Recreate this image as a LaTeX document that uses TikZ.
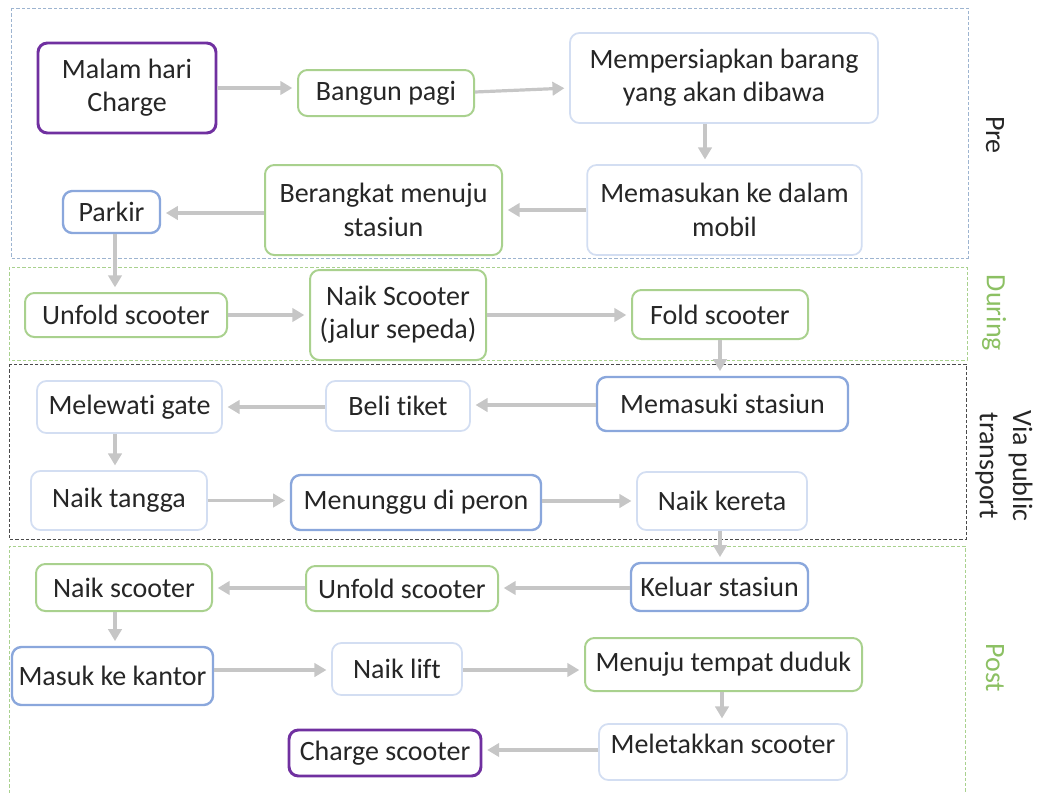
\documentclass[tikz,border=0pt]{standalone}
\usepackage{fontspec}
\setmainfont{Carlito}[Ligatures=NoCommon]
\usetikzlibrary{arrows.meta}

\definecolor{txt}{HTML}{262626}
\definecolor{purp}{HTML}{7030A0}
\definecolor{grn}{HTML}{A9D18E}
\definecolor{grnlabel}{HTML}{8CC063}
\definecolor{blu}{HTML}{8AA7DC}
\definecolor{lblu}{HTML}{D3DEF2}
\definecolor{arrowgray}{HTML}{C6C6C6}
\definecolor{preframe}{HTML}{9DB4D0}
\definecolor{viaframe}{HTML}{4A4A4A}

\begin{document}
\begin{tikzpicture}[x=0.75pt,y=-0.75pt,
  stage/.style={draw, rounded corners=7pt, align=center, fill=white,
    font=\fontsize{21}{25}\selectfont, text=txt, inner xsep=2pt, inner ysep=0pt},
  purplebox/.style={stage, draw=purp, line width=2.2pt},
  greenbox/.style={stage, draw=grn, line width=1.5pt},
  bluebox/.style={stage, draw=blu, line width=1.8pt},
  lightbox/.style={stage, draw=lblu, line width=1.3pt},
  flow/.style={draw=arrowgray, line width=2.4pt,
    -{Triangle[length=9pt,width=10pt]}, shorten >=3.5pt},
  frame/.style={dash pattern=on 2.5pt off 1.5pt, line width=0.7pt},
  phase/.style={rotate=-90, align=center, font=\fontsize{21}{25}\selectfont}]

\useasboundingbox (0,0) rectangle (1040,793);

% phase frames
\draw[frame, draw=preframe] (11,8) rectangle (968,258);
\draw[frame, draw=grn] (9,267) rectangle (967,360);
\draw[frame, draw=viaframe] (9,364) rectangle (966,539);
\draw[frame, draw=grn] (9,793) -- (9,546) -- (965,546) -- (965,793);

% phase labels
\node[phase, text=txt] (lpre) at (995,135) {Pre};
\node[phase, text=grnlabel] (lduring) at (994,313) {During};
\node[phase, text=txt] (lvia) at (1004,466) {Via public\\transport};
\node[phase, text=grnlabel] (lpost) at (995,668) {Post};

% Pre
\node[purplebox, minimum width=133.5pt, minimum height=67.5pt] (malam) at (127,88) {Malam hari\\Charge};
\node[greenbox, minimum width=132pt, minimum height=34.5pt] (bangun) at (386,93) {Bangun pagi};
\node[lightbox, minimum width=231pt, minimum height=67.5pt] (prep) at (724,78) {Mempersiapkan barang\\yang akan dibawa};
\node[lightbox, minimum width=206pt, minimum height=67.5pt] (mobil) at (724.5,210) {Memasukan ke dalam\\mobil};
\node[greenbox, minimum width=177.75pt, minimum height=67.5pt] (berangkat) at (383.5,210) {Berangkat menuju\\stasiun};
\node[bluebox, minimum width=72.75pt, minimum height=31.5pt] (parkir) at (111.5,212) {Parkir};

% During
\node[greenbox, minimum width=151.5pt, minimum height=33pt] (unfoldA) at (126,315) {Unfold scooter};
\node[greenbox, minimum width=132pt, minimum height=67.5pt] (naikA) at (398,315) {Naik Scooter\\(jalur sepeda)};
\node[greenbox, minimum width=132pt, minimum height=36.75pt] (fold) at (720,314.5) {Fold scooter};

% Via public transport
\node[bluebox, minimum width=188.25pt, minimum height=40.5pt] (masukst) at (722.5,404) {Memasuki stasiun};
\node[lightbox, minimum width=108pt, minimum height=37.5pt] (tiket) at (398,406) {Beli tiket};
\node[lightbox, minimum width=138.75pt, minimum height=39pt] (gate) at (129.5,407) {Melewati gate};
\node[lightbox, minimum width=132pt, minimum height=44.25pt] (tangga) at (119,500.5) {Naik tangga};
\node[bluebox, minimum width=187.5pt, minimum height=41.25pt] (peron) at (416,502.5) {Menunggu di peron};
\node[lightbox, minimum width=127.5pt, minimum height=43.5pt] (kereta) at (722,501) {Naik kereta};

% Post
\node[bluebox, minimum width=132.75pt, minimum height=36pt] (keluar) at (719.5,587) {Keluar stasiun};
\node[greenbox, minimum width=144pt, minimum height=33.75pt] (unfoldB) at (402,588.5) {Unfold scooter};
\node[greenbox, minimum width=132pt, minimum height=35.25pt] (naikB) at (124,587.5) {Naik scooter};
\node[bluebox, minimum width=150.75pt, minimum height=43.5pt] (kantor) at (112.5,676) {Masuk ke kantor};
\node[lightbox, minimum width=97.5pt, minimum height=39pt] (lift) at (397,669) {Naik lift};
\node[greenbox, minimum width=207.75pt, minimum height=39.75pt] (duduk) at (723.5,664.5) {Menuju tempat duduk};
\node[lightbox, minimum width=186pt, minimum height=42pt, text depth=12pt] (letak) at (723,752) {Meletakkan scooter};
\node[purplebox, minimum width=144pt, minimum height=34.5pt] (charge) at (385,753) {Charge scooter};

% connectors
\draw[flow] (malam.east |- 0,88) -- (bangun.west |- 0,88);
\draw[flow] (bangun.east |- 0,92) -- (prep.west |- 0,88);
\draw[flow] (prep.south -| 705,0) -- (mobil.north -| 705,0);
\draw[flow] (mobil.west) -- (mobil.west -| berangkat.east);
\draw[flow] (berangkat.west |- 0,213) -- (parkir.east |- 0,213);
\draw[flow] (parkir.south -| 115,0) -- (unfoldA.north -| 115,0);
\draw[flow] (unfoldA.east) -- (unfoldA.east -| naikA.west);
\draw[flow] (naikA.east) -- (naikA.east -| fold.west);
\draw[flow] (fold.south) -- (fold.south |- masukst.north);
\draw[flow] (masukst.west |- 0,405) -- (tiket.east |- 0,405);
\draw[flow] (tiket.west |- 0,407) -- (gate.east |- 0,407);
\draw[flow] (gate.south -| 115,0) -- (tangga.north -| 115,0);
\draw[flow] (tangga.east) -- (tangga.east -| peron.west);
\draw[flow] (peron.east |- 0,501) -- (kereta.west |- 0,501);
\draw[flow] (kereta.south -| 720,0) -- (keluar.north -| 720,0);
\draw[flow] (keluar.west |- 0,588) -- (unfoldB.east |- 0,588);
\draw[flow] (unfoldB.west |- 0,588) -- (naikB.east |- 0,588);
\draw[flow] (naikB.south -| 115,0) -- (kantor.north -| 115,0);
\draw[flow] (kantor.east |- 0,670) -- (lift.west |- 0,670);
\draw[flow] (lift.east |- 0,670) -- (duduk.west |- 0,670);
\draw[flow] (duduk.south -| 722,0) -- (letak.north -| 722,0);
\draw[flow] (letak.west |- 0,750) -- (charge.east |- 0,750);

\end{tikzpicture}
\end{document}
